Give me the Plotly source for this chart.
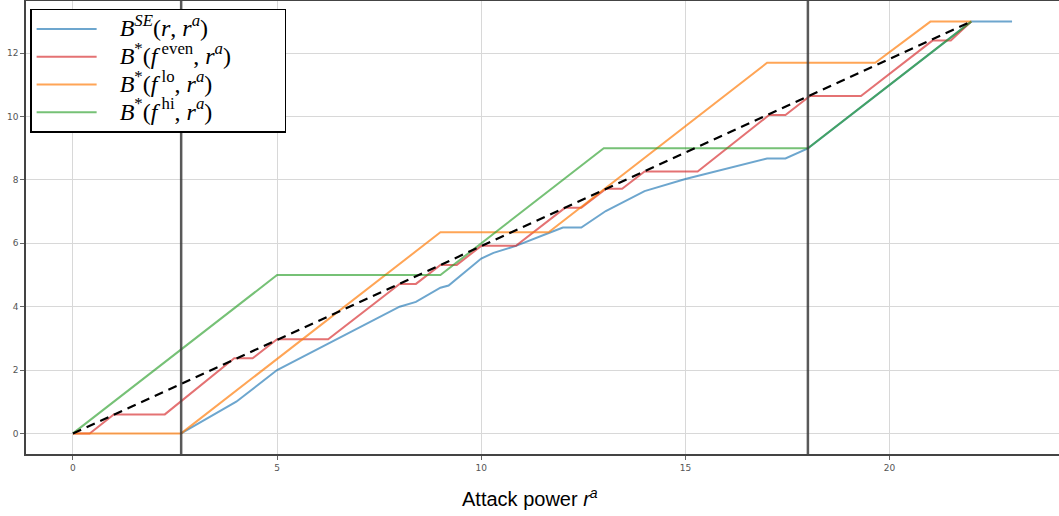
import plotly.graph_objects as go

# ---- data ----
blue_x = [2.65, 4.0, 5.0, 8.0, 8.4, 9.0, 9.2, 10.0, 10.3, 10.85, 11.7, 12.0, 12.45, 13.05, 14.0, 15.0, 17.0, 17.45, 18.0, 22.0, 23.0]
blue_y = [0.0, 1.0, 2.0, 4.0, 4.15, 4.6, 4.67, 5.52, 5.7, 5.92, 6.35, 6.5, 6.5, 7.02, 7.65, 8.03, 8.68, 8.68, 9.0, 13.0, 13.0]

red_x = [0, 0.41, 1.0, 2.25, 3.95, 4.4, 5.0, 6.25, 8.0, 8.4, 9.0, 9.4, 10.0, 10.85, 12.05, 12.45, 13.05, 13.45, 14.0, 15.3, 17.05, 17.45, 18.05, 19.3, 21.05, 21.5, 22.0]
red_y = [0, 0.0, 0.6, 0.6, 2.37, 2.37, 2.97, 2.97, 4.72, 4.72, 5.32, 5.32, 5.92, 5.92, 7.12, 7.12, 7.72, 7.72, 8.27, 8.27, 10.05, 10.05, 10.65, 10.65, 12.4, 12.4, 13.0]

orange_x = [0, 2.65, 9.0, 11.65, 17.0, 19.65, 21.0, 22.0]
orange_y = [0, 0.0, 6.35, 6.35, 11.7, 11.7, 13.0, 13.0]

green_x = [0, 5, 9, 13, 18, 22]
green_y = [0, 5, 5, 9, 9, 13]

diag_x = [0, 22]
diag_y = [0, 13]

vlines = [2.65, 18.0]

x_ticks = [0, 5, 10, 15, 20]
y_ticks = [0, 2, 4, 6, 8, 10, 12]

labels = [
    "<i>B</i><sup><i>SE</i></sup>(<i>r</i>, <i>r</i><sup><i>a</i></sup>)",
    "<i>B</i><sup>*</sup>(<i>f</i><sup> even</sup>, <i>r</i><sup><i>a</i></sup>)",
    "<i>B</i><sup>*</sup>(<i>f</i><sup> lo</sup>, <i>r</i><sup><i>a</i></sup>)",
    "<i>B</i><sup>*</sup>(<i>f</i><sup> hi</sup>, <i>r</i><sup><i>a</i></sup>)",
]
pad = "\u00a0" * 3
tail = "\u00a0" * 8
names = ['<span style="font-size:24px">' + pad + t + '</span>' for t in labels]
names[1] = names[1].replace('</span>', tail + '</span>')
colors = ["rgba(31,119,180,0.65)", "rgba(214,39,40,0.65)", "rgba(255,127,14,0.7)", "rgba(44,160,44,0.65)"]

fig = go.Figure()
for xs, ys, nm, c in zip([blue_x, red_x, orange_x, green_x], [blue_y, red_y, orange_y, green_y], names, colors):
    fig.add_trace(go.Scatter(x=xs, y=ys, mode="lines", name=nm, line=dict(color=c, width=2)))

fig.add_trace(go.Scatter(x=diag_x, y=diag_y, mode="lines", showlegend=False,
                         line=dict(color="black", width=2.2, dash="9px,6px")))

for v in vlines:
    fig.add_vline(x=v, line=dict(color="rgba(60,60,60,0.85)", width=2.5), layer="above")

fig.add_annotation(text="Attack power <i>r</i><sup><i>a</i></sup>", xref="paper", yref="paper",
                   x=0.488, y=-0.095, showarrow=False, xanchor="center", yanchor="middle",
                   font=dict(family="Liberation Sans, Arial, sans-serif", size=20, color="black"))

fig.update_layout(
    width=1059, height=516,
    margin=dict(l=26, r=0, t=1, b=62, autoexpand=False),
    paper_bgcolor="white", plot_bgcolor="white",
    showlegend=True,
    legend=dict(x=0.004, y=0.983, xanchor="left", yanchor="top",
                bgcolor="white", bordercolor="black", borderwidth=1.5,
                font=dict(family="Liberation Serif, DejaVu Serif, serif", size=19, color="black"),
                itemwidth=60, tracegroupgap=0),
)
fig.update_xaxes(range=[-1.15, 24.15], tickvals=x_ticks, showgrid=True, gridcolor="#d8d8d8", gridwidth=1.3,
                 zeroline=False, showline=True, linecolor="#444", linewidth=1.5, mirror=True, automargin=False,
                 ticks="outside", ticklen=4, tickcolor="#666",
                 tickfont=dict(family="DejaVu Sans, sans-serif", size=9, color="#555"))
fig.update_yaxes(range=[-0.65, 13.65], tickvals=y_ticks, showgrid=True, gridcolor="#d8d8d8", gridwidth=1.3,
                 zeroline=False, showline=True, linecolor="#444", linewidth=1.5, automargin=False,
                 ticks="outside", ticklen=4, tickcolor="#666",
                 tickfont=dict(family="DejaVu Sans, sans-serif", size=9, color="#555"))

fig.write_html("out.html", config={"displayModeBar": False},
               post_script="document.body.style.margin='0';document.body.style.overflow='hidden';")
